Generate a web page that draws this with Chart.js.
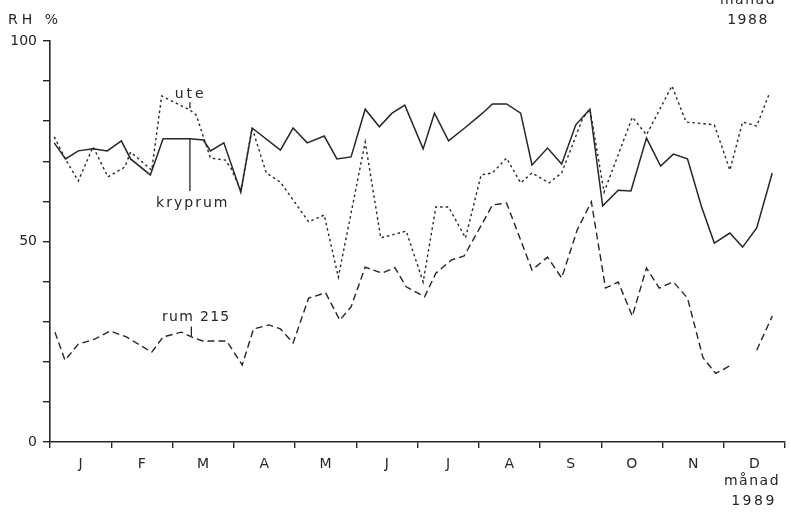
<!DOCTYPE html>
<html>
<head>
<meta charset="utf-8">
<script src="https://cdn.jsdelivr.net/npm/chart.js@4"></script>
<style>
  html, body { margin: 0; padding: 0; background: #ffffff; }
  #wrap { width: 791px; height: 515px; position: relative; }
</style>
</head>
<body>
<div id="wrap"><canvas id="c" width="791" height="515"></canvas></div>
<script>
// Month labels along the x axis (1988/1989 weeks)
const monthLabels = ['J','F','M','A','M','J','J','A','S','O','N','D'];
const yTickLabels = [0, 50, 100];

// kryprum (solid) – week position and RH %
const krypWeeks = [0.3,1.1,2,3.05,4.05,5.05,5.7,7.1,8,9.9,10.85,11.35,12.3,13.5,14.3,16.3,17.2,18.2,19.4,20.3,21.3,22.3,23.3,24.2,25.1,26.4,27.2,28.2,29.4,30.6,31.3,32.3,33.3,34.1,35.2,36.2,37.2,38.2,39.1,40.2,41.1,42.2,43.2,44.1,45.1,46.1,47.0,48.1,49.0,50.0,51.1];
const krypRH    = [74.6,70.6,72.6,73.1,72.6,75.1,70.6,66.6,75.6,75.6,75.3,72.6,74.6,62.3,78.3,72.8,78.3,74.6,76.3,70.6,71.1,83.0,78.6,82.0,84.0,73.1,82.0,75.1,78.5,82.0,84.3,84.3,82.0,69.1,73.3,69.3,79.1,83.0,58.9,62.8,62.6,75.8,68.8,71.8,70.6,58.6,49.6,52.1,48.6,53.4,67.1];

// ute (dotted)
const uteWeeks = [0.3,1.1,2,3.05,4.1,5.3,5.7,7.2,7.9,9.9,10.35,11.35,12.4,12.8,13.5,14.3,15.3,16.3,18.3,19.4,20.4,22.3,23.4,25.2,26.4,27.3,28.2,29.4,30.5,31.3,32.3,33.3,34.1,35.3,36.2,37.7,38.2,39.2,41.2,42.2,44.0,45.0,47.0,48.1,49.0,50.0,50.9];
const uteRH    = [76.1,70.5,65.1,73.6,66.1,68.6,72.3,67.8,86.3,82.8,81.5,70.8,70.3,68.3,62.8,78.3,67.1,64.8,54.9,56.6,41.1,74.8,50.9,52.6,39.9,58.6,58.6,50.9,66.6,67.1,70.8,64.6,67.1,64.6,67.1,80.8,83.0,62.3,81.0,76.6,88.8,79.8,79.1,67.8,79.8,78.8,87.0];

// rum 215 (dashed) – null marks the gap in the record
const rumWeeks = [0.35,1.06,2.0,3.2,4.25,5.4,7.2,8.0,9.3,10.0,10.8,12.5,13.6,14.4,15.5,16.3,17.2,18.3,19.5,20.5,21.3,22.3,23.5,24.4,25.2,26.5,27.3,28.4,29.3,30.6,31.3,32.3,34.1,35.2,36.2,37.3,38.3,39.3,40.2,41.2,42.2,43.1,44.1,45.1,46.2,47.1,48.1,49.0,50.0,51.1];
const rumRH    = [27.4,20.4,24.4,25.7,27.7,26.2,22.4,26.2,27.4,26.2,25.2,25.2,19.2,28.2,29.2,28.2,24.7,35.9,37.2,30.4,33.7,43.6,42.1,43.5,38.7,36.2,42.1,45.4,46.4,54.6,59.1,59.6,42.9,46.1,40.9,52.9,59.9,38.4,39.9,31.4,43.4,38.4,39.9,35.9,21.0,17.1,19.0,null,22.9,31.4];

const INK = '#262626';
const FONT = '"DejaVu Sans", "Liberation Sans", sans-serif';

function pts(xs, ys) { return xs.map((x, i) => ({ x: x, y: ys[i] })); }

const annotations = {
  id: 'annotations',
  afterDraw(chart) {
    const ctx = chart.ctx;
    const xs = chart.scales.x, ys = chart.scales.y;
    const ca = chart.chartArea;
    const X = v => xs.getPixelForValue(v), Y = v => ys.getPixelForValue(v);
    ctx.save();
    ctx.fillStyle = INK;
    ctx.strokeStyle = INK;
    ctx.lineWidth = 1.3;
    ctx.font = '14px ' + FONT;
    ctx.textBaseline = 'middle';
    const txt = (s, x, y, align, sp) => {
      ctx.textAlign = align;
      if ('letterSpacing' in ctx) ctx.letterSpacing = sp + 'px';
      ctx.fillText(s, x, y);
      if ('letterSpacing' in ctx) ctx.letterSpacing = '0px';
    };
    // axis title / year notes
    txt('RH %', 8, 20, 'left', 4);
    txt('månad', ca.right - 37, 0, 'center', 1.5);
    txt('1988', ca.right - 37, 20, 'center', 1.5);
    txt('månad', ca.right - 33, 481, 'center', 1.5);
    txt('1989', ca.right - 31, 501, 'center', 2.5);
    // series labels with pointers
    txt('ute', X(9.95), Y(86.6), 'center', 3);
    ctx.beginPath(); ctx.moveTo(X(9.9), Y(84.7)); ctx.lineTo(X(9.9), Y(83.2)); ctx.stroke();
    txt('kryprum', X(10.1), Y(59.6), 'center', 2);
    ctx.beginPath(); ctx.moveTo(X(9.9), Y(75.6)); ctx.lineTo(X(9.9), Y(62.6)); ctx.stroke();
    txt('rum 215', X(10.35), Y(31.2), 'center', 1.3);
    ctx.beginPath(); ctx.moveTo(X(10.0), Y(28.8)); ctx.lineTo(X(10.0), Y(26.4)); ctx.stroke();
    ctx.restore();
  }
};

new Chart(document.getElementById('c'), {
  type: 'line',
  data: {
    datasets: [
      { label: 'kryprum', data: pts(krypWeeks, krypRH), borderColor: INK, borderWidth: 1.5, tension: 0, pointRadius: 0, fill: false },
      { label: 'ute', data: pts(uteWeeks, uteRH), borderColor: INK, borderWidth: 1.4, borderDash: [2.5, 3], tension: 0, pointRadius: 0, fill: false },
      { label: 'rum 215', data: pts(rumWeeks, rumRH), borderColor: INK, borderWidth: 1.4, borderDash: [7, 4], tension: 0, pointRadius: 0, fill: false, spanGaps: false }
    ]
  },
  options: {
    responsive: false,
    animation: false,
    events: [],
    layout: { padding: { top: 41, right: 6, left: 0, bottom: 0 } },
    plugins: { legend: { display: false }, tooltip: { enabled: false } },
    scales: {
      x: { type: 'linear', min: 0, max: 52, display: false },
      xm: {
        type: 'category', labels: monthLabels, position: 'bottom', offset: true,
        grid: { offset: true, drawOnChartArea: false, drawTicks: true, tickLength: 6, color: INK, lineWidth: 1.4 },
        border: { display: true, color: INK, width: 1.6 },
        ticks: { color: INK, font: { family: FONT, size: 14 }, padding: 8, maxRotation: 0, autoSkip: false },
        afterFit(scale) { scale.height = 73; }
      },
      y: {
        min: 0, max: 100,
        grid: { drawOnChartArea: false, drawTicks: true, tickLength: 7, color: INK, lineWidth: 1.4 },
        border: { display: true, color: INK, width: 1.6 },
        ticks: {
          stepSize: 10, color: INK, font: { family: FONT, size: 14 }, padding: 6,
          callback: v => yTickLabels.includes(v) ? String(v) : ''
        },
        afterFit(scale) { scale.width = 50; }
      }
    }
  },
  plugins: [annotations]
});
</script>
</body>
</html>
